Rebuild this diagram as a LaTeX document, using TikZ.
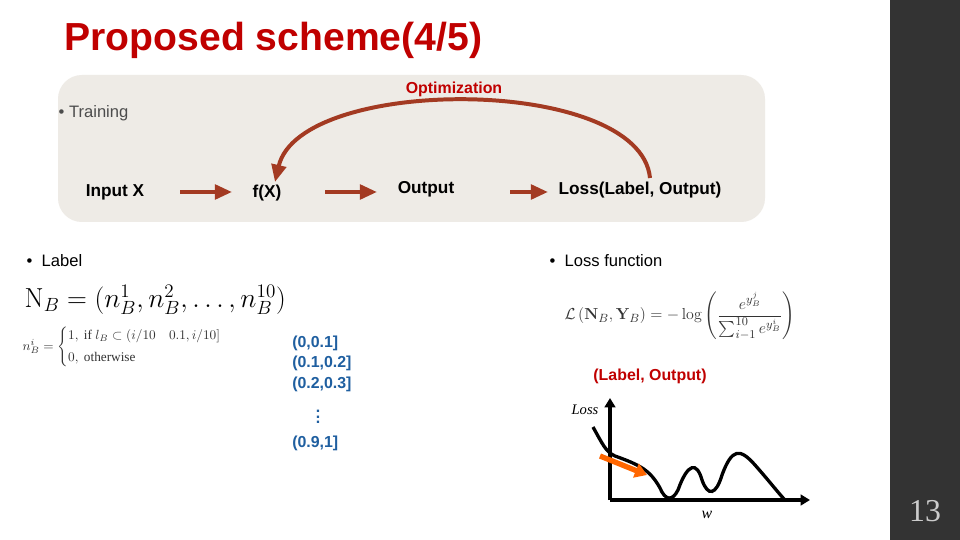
\documentclass[tikz,border=0pt]{standalone}
\usepackage{amsmath}
\usepackage[no-math]{fontspec}
\setmainfont{Liberation Sans}
\newfontfamily\serifface{Liberation Serif}
\usetikzlibrary{arrows.meta,positioning}
\definecolor{darkred}{HTML}{A33A22}
\definecolor{boxfill}{HTML}{EEEBE6}
\definecolor{intblue}{HTML}{1F5FA0}
\definecolor{titlered}{HTML}{C00000}
\tikzset{
  flow/.style={-{Triangle[length=13pt,width=11pt]},line width=3pt,draw=darkred},
  lbl/.style={font=\bfseries\fontsize{13}{15}\selectfont},
  bullet/.style={font=\fontsize{12.5}{15}\selectfont,anchor=west},
  interval/.style={font=\bfseries\fontsize{12}{14}\selectfont,text=intblue,anchor=west,inner sep=0pt},
}
\begin{document}
\begin{tikzpicture}[x=0.0265cm,y=-0.0265cm]
\useasboundingbox (0,0) rectangle (960,540);
\fill[white] (0,0) rectangle (960,540);
\fill[black!80] (890,0) rectangle (960,540);
\node[text=black!20,font=\serifface\fontsize{24}{26}\selectfont] (page) at (925,511) {13};
\node[text=titlered,font=\bfseries\fontsize{29.5}{32}\selectfont,anchor=west] (title) at (60,40) {Proposed scheme(4/5)};
% training box
\fill[boxfill,rounded corners=18pt] (58,75) rectangle (765,222);
\node[text=titlered,font=\bfseries\fontsize{12}{14}\selectfont] (opt) at (454,89) {Optimization};
\node[bullet,text=black!70] (train) at (54,113) {\textbullet\ Training};
\node[lbl] (in) at (115,192) {Input X};
\node[lbl] (fx) at (267,193) {f(X)};
\node[lbl] (out) at (426,189) {Output};
\node[lbl] (loss) at (640,190) {Loss(Label, Output)};
\coordinate (a1) at (180,192); \coordinate (b1) at (232,192);
\coordinate (a2) at (325,192); \coordinate (b2) at (377,192);
\coordinate (a3) at (510,192); \coordinate (b3) at (548,192);
\draw[flow] (a1) -- (b1);
\draw[flow] (a2) -- (b2);
\draw[flow] (a3) -- (b3);
\coordinate (cs) at (650,178); \coordinate (ce) at (275,182);
\draw[flow] (cs) .. controls (640,75) and (300,75) .. (ce);
% label side
\node[bullet] (labhead) at (22,261) {\textbullet\ \ Label};
\node[anchor=west,font=\fontsize{20}{22}\selectfont] (nb) at (20,300) {$\mathrm{N}_B=(n_B^1,n_B^2,\ldots,n_B^{10})$};
\node[anchor=west,font=\serifface\fontsize{10}{12}\selectfont,text=black!80] (cases) at (18,347)
  {$n_B^i=\begin{cases}1,\ \text{if } l_B\subset(i/10\quad 0.1,i/10]\\[2pt] 0,\ \text{otherwise}\end{cases}$};
\node[interval] (i1) at (292,343) {(0,0.1]};
\node[interval] (i2) at (292,363) {(0.1,0.2]};
\node[interval] (i3) at (292,384) {(0.2,0.3]};
\node[text=intblue,font=\bfseries\fontsize{12}{12}\selectfont,inner sep=0pt] (dots) at (318,413) {$\vdots$};
\node[interval] (i9) at (292,443) {(0.9,1]};
% loss side
\node[bullet] (losshead) at (545,261) {\textbullet\ \ Loss function};
\node[font=\fontsize{12.5}{14}\selectfont,text=black!80] (lf) at (680,316)
  {$\mathcal{L}\left(\mathbf{N}_B,\mathbf{Y}_B\right)=-\log\left(\dfrac{e^{y_B^j}}{\sum_{i-1}^{10}e^{y_B^i}}\right)$};
\node[text=titlered,font=\bfseries\fontsize{12}{14}\selectfont] (pair) at (650,376) {(Label, Output)};
\coordinate (org) at (610,500);
\coordinate (ytop) at (610,398);
\coordinate (xend) at (810,500);
\draw[line width=2.5pt,-{Triangle[length=7pt,width=8pt]}] (org) -- (ytop);
\draw[line width=2.5pt,-{Triangle[length=7pt,width=8pt]}] (org) -- (xend);
\node[font=\serifface\itshape\fontsize{11}{13}\selectfont] (ly) at (585,410) {Loss};
\node[font=\serifface\itshape\fontsize{12}{13}\selectfont] (lx) at (707,515) {w};
\draw[line width=2.5pt] (593,427) .. controls (603,445) and (606,452) .. (615,456)
  .. controls (640,465) and (650,470) .. (660,488) .. controls (665,500) and (672,502) .. (678,490)
  .. controls (688,462) and (697,462) .. (702,480) .. controls (708,497) and (716,495) .. (722,475)
  .. controls (732,448) and (740,448) .. (755,465) .. controls (770,482) and (780,495) .. (785,500);
\coordinate (ga) at (600,456); \coordinate (gb) at (647,475);
\draw[line width=4pt,draw=orange!80!red,-{Triangle[length=9pt,width=11pt]}] (ga) -- (gb);
\end{tikzpicture}
\end{document}
